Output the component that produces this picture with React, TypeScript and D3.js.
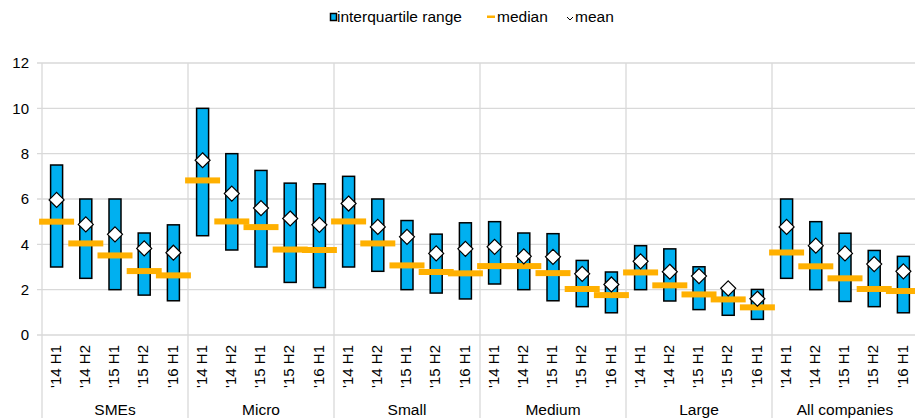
import React, { useRef, useEffect } from "react";
import * as d3 from "d3";

const groups = ["SMEs", "Micro", "Small", "Medium", "Large", "All companies"];
const periods = ["'14 H1", "'14 H2", "'15 H1", "'15 H2", "'16 H1"];

// per group, per period
const q1 = [
  [3.0, 2.5, 2.0, 1.76, 1.51],
  [4.38, 3.75, 3.0, 2.32, 2.09],
  [3.0, 2.81, 2.0, 1.85, 1.59],
  [2.25, 2.0, 1.51, 1.25, 0.98],
  [2.0, 1.5, 1.12, 0.87, 0.69],
  [2.5, 2.0, 1.48, 1.25, 0.98],
];
const q3 = [
  [7.5, 6.0, 6.0, 4.5, 4.86],
  [10.0, 8.0, 7.26, 6.7, 6.67],
  [7.0, 6.0, 5.05, 4.45, 4.95],
  [5.0, 4.5, 4.47, 3.29, 2.78],
  [3.94, 3.8, 3.01, 2.03, 2.01],
  [6.0, 5.0, 4.49, 3.73, 3.47],
];
const medians = [
  [5.0, 4.04, 3.51, 2.82, 2.63],
  [6.82, 5.01, 4.76, 3.77, 3.75],
  [5.01, 4.04, 3.07, 2.78, 2.72],
  [3.04, 3.04, 2.73, 2.03, 1.76],
  [2.76, 2.19, 1.79, 1.57, 1.22],
  [3.64, 3.03, 2.5, 2.03, 1.94],
];
const means = [
  [5.96, 4.88, 4.44, 3.82, 3.63],
  [7.71, 6.24, 5.6, 5.14, 4.86],
  [5.8, 4.77, 4.33, 3.6, 3.8],
  [3.89, 3.47, 3.45, 2.7, 2.23],
  [3.25, 2.79, 2.6, 2.06, 1.6],
  [4.77, 3.94, 3.6, 3.13, 2.81],
];
const yTicks = [0, 2, 4, 6, 8, 10, 12];

const BLUE = "#00b0f0";
const ORANGE = "#ffb000";
const GRID = "#d9d9d9";
const FONT = "'Liberation Sans', Arial, sans-serif";

const App = () => {
  const svgRef = useRef(null);

  useEffect(() => {
    const width = 915;
    const height = 418;
    const margin = { top: 63, right: -3, bottom: 83, left: 42 };

    const svg = d3
      .select(svgRef.current)
      .attr("width", width)
      .attr("height", height)
      .style("font-family", FONT)
      .html("");

    const rows = [];
    groups.forEach((g, gi) => {
      periods.forEach((p, pi) => {
        rows.push({
          key: g + "|" + p,
          group: g,
          period: p,
          lo: q1[gi][pi],
          hi: q3[gi][pi],
          med: medians[gi][pi],
          mean: means[gi][pi],
        });
      });
    });

    const x = d3
      .scaleBand()
      .domain(rows.map((d) => d.key))
      .range([margin.left, width - margin.right]);

    const xGroup = d3
      .scaleBand()
      .domain(groups)
      .range([margin.left, width - margin.right]);

    const y = d3
      .scaleLinear()
      .domain([0, 12])
      .range([height - margin.bottom, margin.top]);

    // gridlines + y labels
    svg
      .append("g")
      .selectAll("line")
      .data(yTicks)
      .join("line")
      .attr("x1", margin.left - 5)
      .attr("x2", width)
      .attr("y1", (d) => y(d))
      .attr("y2", (d) => y(d))
      .attr("stroke", GRID)
      .attr("stroke-width", 1.3);

    svg
      .append("g")
      .selectAll("text")
      .data(yTicks)
      .join("text")
      .attr("x", 29)
      .attr("y", (d) => y(d))
      .attr("dy", "0.35em")
      .attr("text-anchor", "end")
      .attr("font-size", 15)
      .attr("fill", "#000")
      .text((d) => d);

    // group separators
    svg
      .append("g")
      .selectAll("line")
      .data(groups)
      .join("line")
      .attr("x1", (d) => xGroup(d))
      .attr("x2", (d) => xGroup(d))
      .attr("y1", margin.top)
      .attr("y2", height)
      .attr("stroke", GRID)
      .attr("stroke-width", 1.3);

    // period labels
    svg
      .append("g")
      .selectAll("text")
      .data(rows)
      .join("text")
      .attr(
        "transform",
        (d) => `translate(${x(d.key) + x.bandwidth() / 2 - 1},${y(0) + 10}) rotate(-90)`
      )
      .attr("dy", "0.35em")
      .attr("text-anchor", "end")
      .attr("font-size", 15)
      .attr("fill", "#000")
      .text((d) => d.period);

    // group labels
    svg
      .append("g")
      .selectAll("text")
      .data(groups)
      .join("text")
      .attr("x", (d) => xGroup(d) + xGroup.bandwidth() / 2)
      .attr("y", 415)
      .attr("text-anchor", "middle")
      .attr("font-size", 15.5)
      .attr("fill", "#000")
      .text((d) => d);

    const cx = (d) => x(d.key) + x.bandwidth() / 2;

    // interquartile bars
    const barW = 12;
    svg
      .append("g")
      .selectAll("rect")
      .data(rows)
      .join("rect")
      .attr("x", (d) => cx(d) - barW / 2)
      .attr("y", (d) => y(d.hi))
      .attr("width", barW)
      .attr("height", (d) => y(d.lo) - y(d.hi))
      .attr("fill", BLUE)
      .attr("stroke", "#000")
      .attr("stroke-width", 1.5);

    // medians
    const medW = 35;
    svg
      .append("g")
      .selectAll("rect")
      .data(rows)
      .join("rect")
      .attr("x", (d) => cx(d) - medW / 2)
      .attr("y", (d) => y(d.med) - 3)
      .attr("width", medW)
      .attr("height", 6)
      .attr("fill", ORANGE);

    // means
    const r = 7.5;
    svg
      .append("g")
      .selectAll("path")
      .data(rows)
      .join("path")
      .attr("d", (d) => {
        const px = cx(d);
        const py = y(d.mean);
        return `M${px},${py - r}L${px + r},${py}L${px},${py + r}L${px - r},${py}Z`;
      })
      .attr("fill", "#fff")
      .attr("stroke", "#000")
      .attr("stroke-width", 1.2);

    // legend
    const lg = svg.append("g").attr("font-size", 15.5).attr("fill", "#000");
    lg.append("rect")
      .attr("x", 330.5)
      .attr("y", 13.5)
      .attr("width", 6)
      .attr("height", 7)
      .attr("fill", BLUE)
      .attr("stroke", "#000")
      .attr("stroke-width", 1.5);
    lg.append("text").attr("x", 337).attr("y", 22).text("interquartile range");
    lg.append("rect")
      .attr("x", 487)
      .attr("y", 15.5)
      .attr("width", 8)
      .attr("height", 2.5)
      .attr("fill", ORANGE);
    lg.append("text").attr("x", 497).attr("y", 22).text("median");
    lg.append("path")
      .attr("d", "M567,17L570,20L573,17")
      .attr("fill", "none")
      .attr("stroke", "#000")
      .attr("stroke-width", 1);
    lg.append("text").attr("x", 575).attr("y", 22).text("mean");
  }, []);

  return (
    <svg
      ref={svgRef}
      style={{ position: "absolute", left: 0, top: 0, background: "#fff" }}
    />
  );
};

export default App;
